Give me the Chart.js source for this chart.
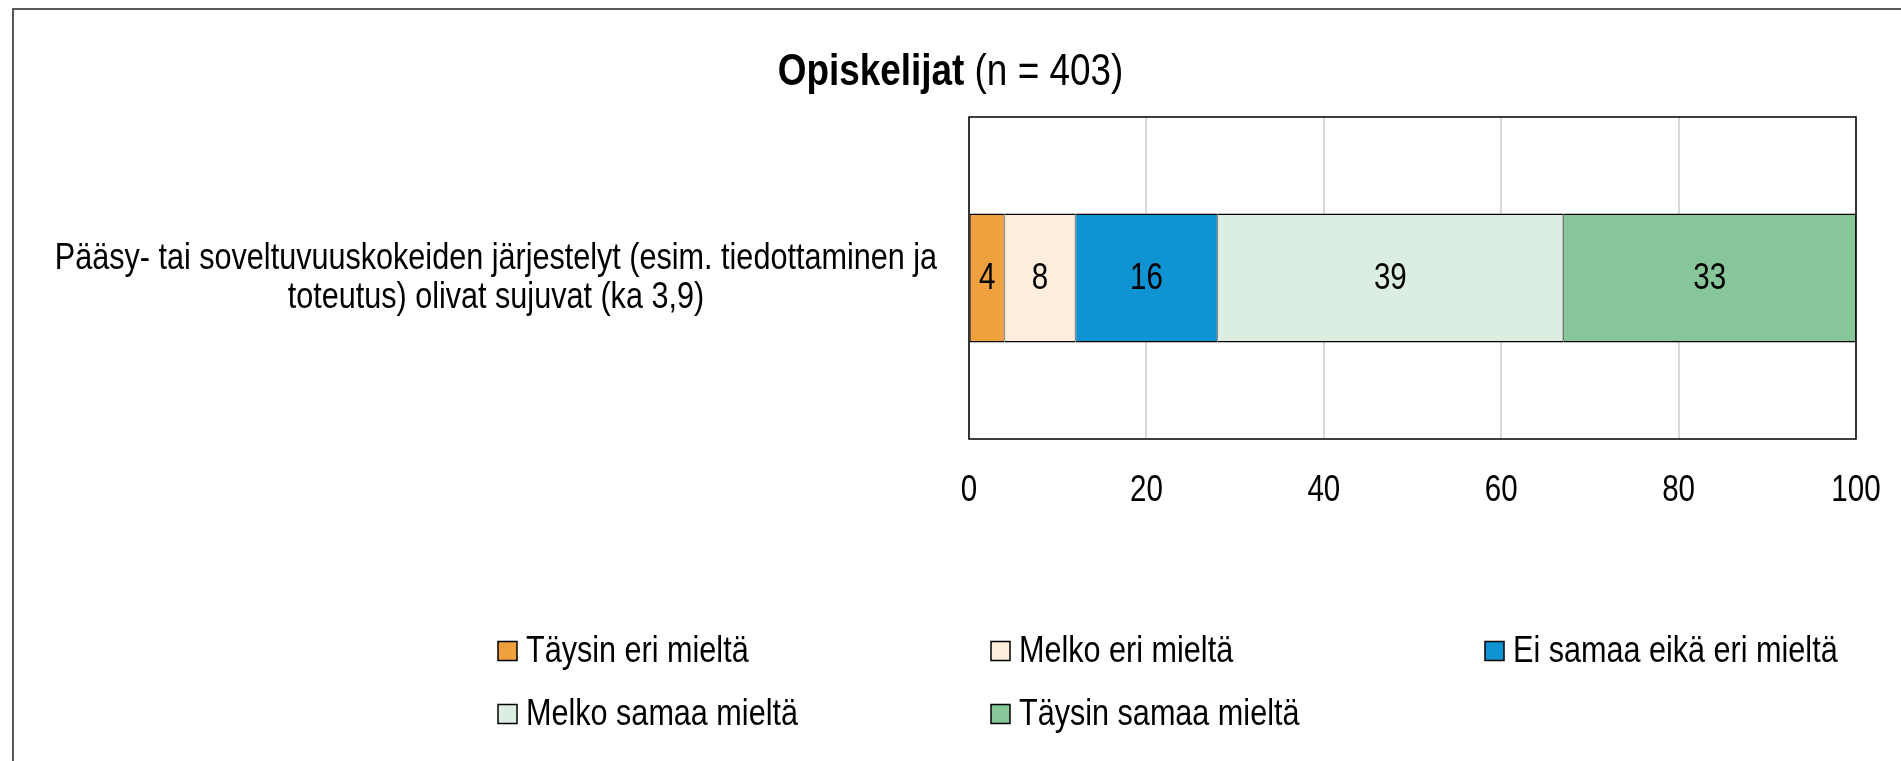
<!DOCTYPE html>
<html><head><meta charset="utf-8">
<script src="https://cdn.jsdelivr.net/npm/chart.js@4.4.1/dist/chart.umd.min.js"></script>
<style>html,body{margin:0;padding:0;background:#fff;overflow:hidden}#wrap{width:1901px;height:761px}</style>
</head><body><div id="wrap"><canvas id="c" width="1901" height="761"></canvas></div>
<script>
const categories = [["Pääsy- tai soveltuvuuskokeiden järjestelyt (esim. tiedottaminen ja", "toteutus) olivat sujuvat (ka 3,9)"]];
const seriesNames = ["Täysin eri mieltä", "Melko eri mieltä", "Ei samaa eikä eri mieltä", "Melko samaa mieltä", "Täysin samaa mieltä"];
const taysinEri = [4];
const melkoEri = [8];
const eiSamaaEikaEri = [16];
const melkoSamaa = [39];
const taysinSamaa = [33];
const xTicks = [0, 20, 40, 60, 80, 100];
const titleBold = "Opiskelijat";
const titleRest = " (n = 403)";

const FAMILY = "'Liberation Sans Narrow', 'Arial Narrow', 'Liberation Sans', Arial, sans-serif";
const colors = ['#F0A03C', '#FDEDDA', '#0F93D2', '#DCEEE2', '#86C699'];
const seriesValues = [taysinEri, melkoEri, eiSamaaEikaEri, melkoSamaa, taysinSamaa];

// Narrow-font emulation: draw all canvas text horizontally condensed (like Arial Narrow)
const canvas = document.getElementById('c');
const ctx0 = canvas.getContext('2d');
const SX = 0.82;
const origFill = ctx0.fillText.bind(ctx0);
const origMeasure = ctx0.measureText.bind(ctx0);
ctx0.fillText = function (t, x, y) {
  ctx0.save();
  ctx0.translate(x, y);
  ctx0.scale(SX, 1);
  origFill(t, 0, 0);
  ctx0.restore();
};
ctx0.measureText = function (t) {
  const m = origMeasure(t);
  return {
    width: m.width * SX,
    actualBoundingBoxAscent: m.actualBoundingBoxAscent,
    actualBoundingBoxDescent: m.actualBoundingBoxDescent,
    actualBoundingBoxLeft: m.actualBoundingBoxLeft * SX,
    actualBoundingBoxRight: m.actualBoundingBoxRight * SX,
    fontBoundingBoxAscent: m.fontBoundingBoxAscent,
    fontBoundingBoxDescent: m.fontBoundingBoxDescent
  };
};

const extras = {
  id: 'extras',
  beforeDraw(chart) {
    const ctx = chart.ctx;
    ctx.save();
    ctx.fillStyle = '#fff';
    ctx.fillRect(0, 0, chart.width, chart.height);
    ctx.strokeStyle = '#595959';
    ctx.lineWidth = 2;
    ctx.beginPath();
    ctx.moveTo(13, chart.height + 5);
    ctx.lineTo(13, 9);
    ctx.lineTo(chart.width + 5, 9);
    ctx.stroke();
    ctx.restore();
  },
  afterDatasetsDraw(chart) {
    const ctx = chart.ctx;
    const a = chart.chartArea;
    ctx.save();
    // plot frame
    ctx.strokeStyle = '#000';
    ctx.lineWidth = 1.5;
    ctx.strokeRect(a.left, a.top, a.right - a.left, a.bottom - a.top);
    // value labels
    ctx.fillStyle = '#000';
    ctx.font = '36px ' + FAMILY;
    ctx.textAlign = 'center';
    ctx.textBaseline = 'middle';
    chart.data.datasets.forEach((ds, i) => {
      const meta = chart.getDatasetMeta(i);
      meta.data.forEach((el, j) => {
        const p = el.getProps(['x', 'y', 'base'], true);
        ctx.fillText(String(ds.data[j]), (p.x + p.base) / 2, p.y + 1);
      });
    });
    // title
    ctx.textAlign = 'left';
    ctx.font = 'bold 45px ' + FAMILY;
    const w1 = ctx.measureText(titleBold).width;
    ctx.font = '45px ' + FAMILY;
    const w2 = ctx.measureText(titleRest).width;
    const tx = chart.width / 2 - (w1 + w2) / 2;
    ctx.font = 'bold 45px ' + FAMILY;
    ctx.fillText(titleBold, tx, 73);
    ctx.font = '45px ' + FAMILY;
    ctx.fillText(titleRest, tx + w1, 73);
    // legend
    const cols = [498, 991, 1485];
    const rows = [651, 714];
    ctx.font = '37.3px ' + FAMILY;
    chart.data.datasets.forEach((ds, i) => {
      const bx = cols[i % 3];
      const cy = rows[Math.floor(i / 3)];
      ctx.fillStyle = ds.backgroundColor;
      ctx.fillRect(bx, cy - 9.5, 19, 19);
      ctx.strokeStyle = '#000';
      ctx.lineWidth = 1.5;
      ctx.strokeRect(bx, cy - 9.5, 19, 19);
      ctx.fillStyle = '#000';
      ctx.fillText(ds.label, bx + 28, cy + 1);
    });
    ctx.restore();
  }
};

new Chart(canvas, {
  type: 'bar',
  data: {
    labels: categories,
    datasets: seriesValues.map((v, i) => ({
      label: seriesNames[i],
      data: v,
      backgroundColor: colors[i],
      borderColor: '#000',
      borderWidth: {top: 1.5, bottom: 1.5, left: 0.75, right: 0.75},
      borderSkipped: false,
      barPercentage: 0.4,
      categoryPercentage: 1
    }))
  },
  options: {
    indexAxis: 'y',
    responsive: false,
    animation: false,
    events: [],
    layout: {padding: {left: 14, top: 117, right: 45, bottom: 0}},
    plugins: {legend: {display: false}, title: {display: false}, tooltip: {enabled: false}},
    scales: {
      x: {
        stacked: true, min: 0, max: 100,
        afterBuildTicks: s => { s.ticks = xTicks.map(v => ({value: v})); },
        grid: {color: '#d9d9d9', lineWidth: 2, drawTicks: false},
        border: {display: false},
        ticks: {padding: 30, maxRotation: 0, autoSkip: false, color: '#000', font: {family: FAMILY, size: 36}},
        afterFit: s => { s.height = 322; s.paddingLeft = 0; s.paddingRight = 0; }
      },
      y: {
        stacked: true,
        grid: {display: false, drawTicks: false},
        border: {display: false},
        ticks: {crossAlign: 'center', padding: 32, color: '#000', font: {family: FAMILY, size: 37.3, lineHeight: 1.05}},
        afterFit: s => { s.width = 955; s.paddingTop = 0; s.paddingBottom = 0; }
      }
    }
  },
  plugins: [extras]
});
</script>
</body></html>
